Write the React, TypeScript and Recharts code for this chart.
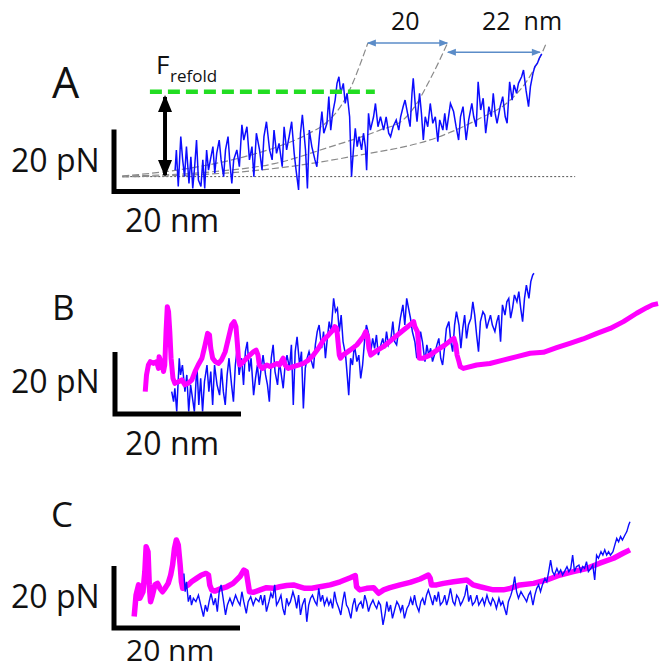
import { ComposedChart, Line, XAxis, YAxis } from 'recharts';

// extension (nm) vs force (pN); 0/0 = corner of each scale bar
const A_TRACE = [
  [9.7, 6.9], [9.9, 13.4], [10.2, 1.6], [10.6, 17.7], [10.9, 10.2], [11.2, 4.8], [11.5, 14.5], [11.9, 2.6],
  [12.2, 11.2], [12.5, 1.0], [12.8, 8.0], [13.1, 16.6], [13.4, 3.7], [13.8, 1.6], [14.1, 10.2], [14.4, 1.0],
  [14.7, 13.4], [15.0, 6.9], [15.3, 10.2], [15.7, 14.5], [16.0, 5.9], [16.3, 12.3], [16.7, 16.6], [17.0, 10.2],
  [17.4, 4.8], [17.7, 13.4], [18.1, 17.7], [18.4, 9.1], [18.7, 2.6], [19.0, 10.2], [19.5, 13.4], [19.9, 8.0],
  [20.3, 21.5], [20.6, 16.6], [21.1, 20.9], [21.5, 10.2], [21.9, 14.5], [22.2, 4.8], [22.6, 18.8], [23.1, 13.4],
  [23.5, 6.9], [23.8, 17.7], [24.2, 22.5], [24.7, 13.4], [25.1, 10.2], [25.4, 19.8], [25.8, 12.3], [26.2, 15.5],
  [26.7, 8.0], [27.0, 20.9], [27.4, 13.4], [27.8, 17.7], [28.2, 22.5], [28.6, 12.3], [28.9, 6.9], [29.3, 0.5],
  [29.6, 18.8], [29.9, 24.7], [30.4, 13.4], [30.7, 1.0], [31.0, 19.8], [31.4, 14.5], [31.9, 10.2], [32.2, 8.0],
  [32.6, 17.7], [33.0, 25.8], [33.3, 18.8], [33.8, 22.0], [34.1, 30.6], [34.4, 19.8], [34.7, 25.2], [35.1, 29.5],
  [35.4, 34.9], [35.7, 37.0], [36.0, 31.7], [36.4, 34.9], [36.7, 28.4], [37.0, 31.7], [37.4, 24.1], [37.7, 4.8],
  [38.0, 13.4], [38.3, 20.4], [38.6, 14.5], [38.9, 17.7], [39.3, 13.4], [39.6, 18.8], [39.9, 14.5], [40.1, 6.9],
  [40.4, 25.2], [40.7, 19.8], [41.2, 24.1], [41.5, 28.4], [41.9, 20.9], [42.3, 24.1], [42.8, 19.8], [43.2, 24.1],
  [43.6, 18.8], [43.9, 17.7], [44.3, 20.9], [44.8, 23.1], [45.2, 19.8], [45.5, 24.1], [45.9, 27.4], [46.2, 29.5],
  [46.7, 24.1], [47.0, 20.9], [47.3, 31.7], [47.5, 36.5], [47.8, 28.4], [48.1, 22.5], [48.5, 31.7], [48.8, 25.2],
  [49.1, 16.6], [49.4, 24.1], [49.8, 20.9], [50.2, 28.4], [50.6, 22.0], [51.0, 24.1], [51.4, 16.1], [51.7, 23.1],
  [52.2, 19.8], [52.5, 25.2], [52.8, 19.8], [53.1, 24.1], [53.4, 28.4], [53.9, 25.8], [54.3, 20.9], [54.7, 16.6],
  [55.0, 24.1], [55.4, 27.4], [55.9, 16.6], [56.3, 23.1], [56.8, 28.4], [57.1, 24.1], [57.5, 20.9], [57.8, 35.4],
  [58.2, 26.3], [58.6, 30.1], [59.0, 18.8], [59.5, 27.4], [59.9, 24.1], [60.2, 31.7], [60.5, 25.2], [60.8, 22.0],
  [61.3, 27.4], [61.7, 30.6], [62.1, 24.1], [62.4, 22.0], [62.8, 35.4], [63.2, 29.5], [63.5, 34.4], [63.9, 31.7],
  [64.2, 34.9], [64.7, 37.0], [65.0, 39.2], [65.4, 32.7], [65.8, 27.4], [66.1, 33.8], [66.5, 38.1], [66.8, 40.3],
  [67.2, 41.3], [67.5, 43.0], [67.9, 44.4],
];

// worm-like-chain guide curves in A
const A_WLC_1 = [[1.3, 5.0], [10.0, 6.9], [20.5, 11.1], [25.9, 14.4], [31.1, 18.9], [33.8, 22.4], [36.3, 28.5], [37.9, 35.0], [39.5, 43.4], [40.3, 47.9]];
const A_WLC_2 = [[1.3, 5.0], [15.2, 6.3], [25.9, 9.2], [34.3, 14.4], [42.2, 19.8], [45.9, 23.1], [48.1, 28.5], [50.0, 35.5], [51.7, 42.4], [53.0, 48.2]];
const A_WLC_3 = [[1.3, 4.7], [20.0, 6.3], [37.5, 11.2], [52.3, 18.2], [57.6, 23.1], [62.9, 29.5], [65.5, 35.5], [67.2, 41.5], [68.7, 48.2]];
const A_BASELINE = [[1.3, 4.8], [73.2, 4.8]];
const A_REFOLD = [[5.7, 32.2], [41.4, 32.2]];
const A_FORCE_ARROW = [[8.1, 30.5], [8.1, 5.3]];
const A_STEP_20 = [[40.3, 47.9], [52.9, 47.9]];
const A_STEP_22 = [[53.0, 44.9], [67.6, 44.9]];

const B_TRACE = [
  [9.0, 7.2], [9.3, 4.0], [9.5, 8.3], [9.8, 0.8], [10.2, 18.0], [10.4, 12.6], [10.7, 15.8], [11.1, 7.2],
  [11.4, 12.6], [11.7, 0.8], [12.0, 9.4], [12.3, 5.1], [12.6, 0.8], [13.0, 15.8], [13.3, 2.9], [13.6, 11.5],
  [13.9, 0.8], [14.2, 10.4], [14.6, 15.8], [14.9, 7.2], [15.2, 13.7], [15.5, 2.9], [15.8, 15.8], [16.2, 9.4],
  [16.6, 6.1], [16.9, 14.7], [17.2, 7.2], [17.5, 2.9], [17.8, 12.6], [18.1, 18.0], [18.5, 9.4], [18.8, 4.0],
  [19.1, 15.8], [19.4, 21.2], [19.7, 12.6], [20.1, 18.0], [20.4, 9.4], [20.7, 20.1], [21.0, 23.3], [21.3, 13.7],
  [21.6, 18.0], [22.0, 6.1], [22.3, 11.5], [22.6, 15.8], [22.9, 9.4], [23.2, 14.7], [23.5, 19.0], [23.9, 12.6],
  [24.2, 9.4], [24.5, 4.0], [24.8, 18.0], [25.1, 22.3], [25.4, 13.7], [25.8, 9.4], [26.1, 16.9], [26.4, 12.6],
  [26.7, 8.3], [27.0, 15.8], [27.3, 19.0], [27.7, 14.7], [28.0, 22.3], [28.3, 2.9], [28.6, 20.1], [28.9, 24.9],
  [29.3, 15.8], [29.6, 20.1], [29.9, 1.8], [30.2, 14.7], [30.5, 18.0], [30.8, 20.1], [31.2, 16.9], [31.5, 14.7],
  [31.8, 22.3], [32.1, 26.6], [32.4, 28.7], [32.8, 21.2], [33.1, 26.6], [33.4, 18.0], [33.7, 24.4], [34.0, 29.8],
  [34.3, 26.6], [34.7, 37.3], [35.0, 33.0], [35.3, 34.1], [35.6, 26.6], [35.9, 31.9], [36.2, 23.3], [36.6, 19.0],
  [36.9, 11.5], [37.1, 6.1], [37.4, 18.0], [37.7, 15.8], [38.0, 22.3], [38.4, 16.9], [38.7, 19.0], [39.0, 11.5],
  [39.3, 15.8], [39.6, 23.3], [39.9, 28.7], [40.3, 25.5], [40.6, 20.1], [40.9, 24.4], [41.2, 21.2], [41.5, 25.5],
  [41.8, 19.0], [42.2, 22.3], [42.5, 24.4], [42.8, 21.2], [43.1, 26.6], [43.4, 22.3], [43.8, 24.4], [44.1, 29.8],
  [44.4, 23.3], [44.7, 22.3], [45.0, 26.6], [45.3, 30.9], [45.7, 35.2], [46.0, 28.7], [46.3, 37.3], [46.6, 34.1],
  [46.9, 30.9], [47.2, 26.6], [47.6, 23.3], [47.9, 18.0], [48.2, 21.2], [48.5, 26.6], [48.8, 23.3], [49.2, 16.9],
  [49.5, 22.3], [49.8, 19.0], [50.1, 21.2], [50.4, 16.9], [50.7, 19.0], [51.1, 22.3], [51.4, 24.4], [51.7, 18.0],
  [52.0, 15.8], [52.3, 21.2], [52.6, 27.6], [53.0, 29.8], [53.3, 23.3], [53.6, 20.1], [53.9, 28.7], [54.2, 33.0],
  [54.6, 28.7], [54.9, 21.2], [55.2, 27.6], [55.5, 31.9], [55.8, 24.4], [56.1, 28.7], [56.5, 30.9], [56.8, 36.2],
  [57.1, 31.9], [57.4, 25.5], [57.7, 20.1], [58.0, 29.8], [58.4, 33.0], [58.7, 31.9], [59.0, 27.6], [59.3, 29.8],
  [59.6, 31.9], [59.9, 28.7], [60.3, 26.6], [60.6, 29.8], [60.9, 31.9], [61.2, 23.3], [61.5, 35.2], [61.9, 31.9],
  [62.2, 36.2], [62.5, 37.3], [62.8, 30.9], [63.1, 34.1], [63.4, 38.4], [63.8, 36.2], [64.1, 39.5], [64.4, 34.1],
  [64.7, 29.8], [65.0, 37.3], [65.3, 41.6], [65.7, 37.3], [66.0, 42.7], [66.3, 44.8], [66.5, 45.4],
];

const B_MODEL = [
  [4.8, 7.2], [5.0, 12.6], [5.3, 15.8], [5.6, 16.9], [6.1, 16.3], [6.6, 16.9], [6.9, 14.7], [7.0, 18.5],
  [7.2, 17.4], [7.5, 15.8], [7.7, 13.7], [7.9, 15.8], [8.1, 26.6], [8.3, 34.6], [8.5, 33.0], [8.7, 26.6],
  [8.9, 18.0], [9.2, 11.5], [9.5, 9.9], [10.1, 10.4], [10.6, 11.0], [11.1, 9.4], [11.6, 9.9], [12.2, 11.0],
  [12.7, 13.7], [13.2, 15.8], [13.8, 18.0], [14.3, 22.3], [14.7, 26.0], [15.0, 25.5], [15.2, 21.2], [15.5, 18.0],
  [15.9, 16.9], [16.4, 16.3], [16.9, 17.4], [17.5, 20.1], [18.0, 24.4], [18.5, 28.7], [18.9, 29.8], [19.2, 28.2],
  [19.4, 23.3], [19.6, 18.0], [19.8, 15.8], [20.4, 16.9], [20.9, 18.0], [21.4, 19.0], [22.0, 20.1], [22.4, 20.6],
  [22.7, 19.0], [22.9, 15.8], [23.4, 14.7], [24.1, 15.8], [24.6, 15.3], [25.2, 15.8], [25.7, 16.3], [26.1, 15.8],
  [26.5, 17.4], [26.7, 18.0], [27.0, 15.8], [27.5, 14.7], [28.3, 15.3], [29.1, 15.8], [29.9, 16.3], [30.7, 17.4],
  [31.5, 19.0], [32.3, 21.2], [33.1, 23.9], [33.9, 25.5], [34.6, 27.1], [34.9, 28.2], [35.2, 27.6], [35.4, 23.3],
  [35.6, 19.0], [35.8, 18.0], [36.2, 19.0], [37.3, 20.6], [38.4, 22.3], [39.4, 24.9], [39.8, 26.6], [40.1, 24.9],
  [40.3, 21.2], [40.6, 19.0], [41.3, 20.1], [42.6, 21.7], [44.2, 24.4], [45.8, 27.1], [47.1, 29.2], [47.4, 29.8],
  [47.6, 28.2], [48.0, 26.6], [48.2, 22.3], [48.3, 18.0], [48.9, 18.0], [50.0, 19.0], [51.1, 20.6], [52.4, 22.3],
  [53.4, 23.9], [53.8, 24.4], [54.1, 22.3], [54.3, 19.0], [54.6, 16.9], [54.8, 15.3], [55.3, 14.7], [57.4, 15.8],
  [59.5, 16.3], [61.6, 17.4], [63.8, 18.5], [65.9, 19.6], [68.0, 19.9], [70.1, 21.4], [72.2, 22.8], [74.3, 24.2],
  [76.5, 26.0], [78.6, 27.6], [80.7, 29.8], [82.8, 32.5], [84.4, 34.3], [85.3, 35.2], [86.2, 35.6],
];

const C_TRACE = [
  [11.1, 17.6], [11.3, 11.7], [11.5, 14.9], [11.8, 8.5], [12.1, 10.6], [12.3, 7.4], [12.6, 9.6], [13.0, 8.5],
  [13.4, 10.6], [13.9, 6.3], [14.2, 3.7], [14.5, 7.4], [14.8, 5.3], [15.1, 8.5], [15.4, 11.2], [15.8, 7.4],
  [16.1, 9.6], [16.4, 5.3], [16.7, 11.7], [17.0, 13.9], [17.4, 8.5], [17.7, 4.2], [18.0, 7.4], [18.4, 9.6],
  [18.8, 7.4], [19.3, 10.6], [19.7, 8.5], [20.0, 7.4], [20.3, 11.7], [20.6, 8.5], [21.0, 4.7], [21.3, 8.5],
  [21.7, 10.1], [22.1, 7.4], [22.5, 9.6], [23.0, 8.5], [23.3, 10.6], [23.6, 7.4], [23.9, 10.6], [24.2, 5.3],
  [24.6, 8.5], [24.9, 11.2], [25.2, 9.6], [25.5, 13.9], [25.8, 7.4], [26.1, 8.5], [26.5, 10.6], [26.8, 6.3],
  [27.1, 4.2], [27.4, 9.6], [27.7, 7.4], [28.0, 8.5], [28.4, 11.7], [28.7, 9.6], [29.0, 6.3], [29.3, 10.6],
  [29.6, 4.2], [29.9, 7.4], [30.3, 9.6], [30.6, 2.0], [30.9, 7.4], [31.2, 9.6], [31.5, 10.6], [31.9, 8.5],
  [32.2, 7.4], [32.5, 12.8], [32.8, 8.5], [33.1, 10.6], [33.4, 7.4], [33.8, 9.6], [34.1, 7.4], [34.4, 9.0],
  [34.7, 6.3], [35.0, 11.7], [35.3, 8.5], [35.7, 6.3], [36.0, 4.2], [36.3, 8.5], [36.6, 11.7], [36.9, 7.4],
  [37.2, 6.3], [37.6, 3.1], [37.9, 7.4], [38.2, 9.6], [38.5, 5.3], [38.8, 7.4], [39.2, 8.5], [39.5, 6.3],
  [39.8, 10.6], [40.1, 8.5], [40.4, 5.3], [40.7, 7.4], [41.1, 9.0], [41.4, 7.4], [41.7, 6.3], [42.0, 8.5],
  [42.3, 7.4], [42.7, 1.0], [43.0, 4.2], [43.3, 8.5], [43.6, 5.3], [43.9, 7.4], [44.2, 3.1], [44.6, 6.3],
  [44.9, 8.5], [45.2, 7.4], [45.5, 5.3], [45.8, 7.4], [46.1, 3.1], [46.5, 6.3], [46.8, 7.4], [47.1, 9.6],
  [47.4, 7.4], [47.7, 10.6], [48.0, 7.4], [48.4, 5.3], [48.7, 8.5], [49.0, 9.6], [49.3, 7.4], [49.6, 10.6],
  [49.9, 12.3], [50.3, 9.6], [50.6, 7.4], [50.9, 10.6], [51.2, 8.5], [51.5, 11.7], [51.8, 7.4], [52.2, 8.5],
  [52.5, 10.6], [52.8, 7.4], [53.1, 9.6], [53.4, 12.8], [53.8, 8.5], [54.1, 7.4], [54.4, 10.6], [54.7, 9.6],
  [55.0, 7.4], [55.3, 8.5], [55.7, 10.6], [56.0, 13.9], [56.3, 8.5], [56.6, 10.6], [56.9, 7.4], [57.3, 8.5],
  [57.6, 10.6], [57.9, 7.4], [58.2, 8.5], [58.5, 9.6], [58.8, 7.4], [59.2, 10.6], [59.5, 8.5], [59.8, 7.4],
  [60.1, 9.6], [60.4, 8.5], [60.7, 6.3], [61.1, 9.6], [61.4, 7.4], [61.7, 8.5], [62.0, 6.3], [62.3, 4.2],
  [62.6, 8.5], [63.0, 10.6], [63.3, 12.8], [63.6, 16.6], [63.9, 11.7], [64.2, 9.6], [64.6, 11.7], [64.9, 10.6],
  [65.2, 9.6], [65.5, 8.5], [65.8, 10.6], [66.1, 11.7], [66.5, 7.4], [66.8, 10.6], [67.1, 12.8], [67.4, 13.9],
  [67.7, 11.7], [68.0, 13.9], [68.4, 16.0], [68.7, 14.9], [69.0, 18.2], [69.3, 21.9], [69.6, 18.2], [69.9, 17.1],
  [70.3, 19.2], [70.6, 17.6], [70.9, 18.7], [71.2, 17.1], [71.5, 18.2], [71.9, 19.8], [72.2, 18.2], [72.5, 19.2],
  [72.8, 23.5], [73.1, 18.2], [73.4, 19.8], [73.8, 20.3], [74.1, 18.2], [74.4, 19.8], [74.7, 19.2], [75.0, 21.4],
  [75.3, 18.2], [75.7, 19.2], [76.0, 20.3], [76.3, 15.5], [76.6, 23.5], [76.9, 22.5], [77.3, 24.6], [77.6, 23.5],
  [77.9, 25.2], [78.2, 23.5], [78.5, 24.6], [78.8, 23.5], [79.2, 24.6], [79.5, 26.8], [79.8, 28.9], [80.1, 27.8],
  [80.4, 29.5], [80.7, 28.4], [81.1, 30.0], [81.4, 31.1], [81.7, 33.2], [81.9, 34.3],
];

const C_MODEL = [
  [3.2, 3.7], [3.5, 10.6], [3.9, 13.9], [4.1, 9.6], [4.6, 11.7], [4.9, 18.2], [5.1, 26.2], [5.4, 24.6],
  [5.6, 13.9], [5.8, 8.5], [6.1, 10.6], [6.5, 13.9], [6.9, 14.4], [7.3, 12.8], [7.7, 11.7], [8.1, 12.8],
  [8.6, 14.4], [9.0, 17.1], [9.3, 20.3], [9.6, 25.7], [9.9, 28.4], [10.2, 26.8], [10.5, 20.3], [10.7, 14.9],
  [10.9, 12.8], [11.3, 13.3], [11.8, 13.9], [12.3, 14.9], [13.1, 16.0], [13.9, 17.1], [14.6, 17.6], [15.0, 17.1],
  [15.2, 13.9], [15.5, 12.3], [16.0, 11.9], [16.8, 12.6], [17.9, 13.3], [18.9, 14.4], [20.0, 16.6], [20.6, 18.7],
  [21.0, 18.2], [21.2, 15.5], [21.5, 11.7], [22.1, 11.5], [23.2, 12.3], [24.2, 13.0], [25.3, 12.8], [26.3, 13.3],
  [27.4, 13.7], [28.5, 13.9], [29.5, 13.3], [30.3, 12.8], [31.4, 12.8], [32.7, 13.3], [34.3, 13.9], [35.9, 14.9],
  [37.5, 16.2], [38.3, 16.9], [38.5, 13.3], [39.0, 12.3], [40.1, 12.8], [41.2, 13.0], [42.0, 11.2], [42.8, 12.3],
  [43.8, 13.0], [45.4, 13.9], [47.0, 14.7], [48.6, 15.8], [49.9, 17.1], [50.2, 16.0], [50.4, 13.9], [51.2, 13.9],
  [52.3, 14.4], [53.9, 14.9], [56.0, 15.5], [57.0, 13.9], [58.1, 13.3], [59.2, 12.8], [60.2, 12.3], [61.8, 12.3],
  [62.9, 12.8], [64.4, 13.9], [66.6, 14.4], [68.7, 15.5], [70.8, 17.1], [72.9, 18.2], [75.0, 19.2], [77.1, 20.9],
  [79.3, 22.5], [80.8, 24.1], [81.9, 25.2],
];

// 20 pN / 20 nm scale bar
const SCALE_BAR = [[0, 20], [0, 0], [20, 0]];

const PANEL_LETTERS = ['A', 'B', 'C'];
const FORCE_LABEL = '20 pN';
const EXT_LABEL = '20 nm';
const STEP_LABELS = ['20', '22  nm'];

const W = 659;
const H = 671;
const PX_PER_NM = 6.3;
const PX_PER_PN = 3.1;
const FONT = '"Open Sans", "Liberation Sans", sans-serif';
const BLUE = '#0c0cff';
const MAGENTA = '#ff00ff';

const toPts = (arr: number[][]) => arr.map(([x, y]) => ({ x, y }));

function Head(props: any, horizontal: boolean, len: number, half: number, color: string) {
  const { cx, cy, index } = props;
  if (cx == null || cy == null) return <g key={index} />;
  const s = index === 0 ? 1 : -1;
  const pts = horizontal
    ? `${cx - s},${cy} ${cx + s * len},${cy - half} ${cx + s * len},${cy + half}`
    : `${cx},${cy - 2 * s} ${cx - half},${cy + s * len} ${cx + half},${cy + s * len}`;
  return <polygon key={index} points={pts} fill={color} />;
}

function Panel({ top, height, x0, y0, children }: any) {
  const xDomain = [-x0 / PX_PER_NM, (W - x0) / PX_PER_NM];
  const yDomain = [(y0 - (top + height)) / PX_PER_PN, (y0 - top) / PX_PER_PN];
  return (
    <div style={{ position: 'absolute', left: 0, top }}>
      <ComposedChart width={W} height={height} margin={{ top: 0, right: 0, bottom: 0, left: 0 }}>
        <XAxis type="number" dataKey="x" domain={xDomain} hide allowDataOverflow />
        <YAxis type="number" dataKey="y" domain={yDomain} hide allowDataOverflow />
        {children}
      </ComposedChart>
    </div>
  );
}

const common = { dataKey: 'y', dot: false, activeDot: false, isAnimationActive: false, type: 'linear' as const };

function ScaleBar() {
  return (
    <Line {...common} data={toPts(SCALE_BAR)} stroke="#000" strokeWidth={5} strokeLinejoin="miter" strokeLinecap="butt" />
  );
}

function Label({ x, y, size, children }: any) {
  return (
    <text x={x} y={y} fontSize={size} fontFamily={FONT} fill="#111" xmlSpace="preserve">
      {children}
    </text>
  );
}

export default function App() {
  return (
    <div style={{ position: 'absolute', left: 0, top: 0, width: W, height: H, background: '#fff', overflow: 'hidden' }}>
      <Panel top={0} height={240} x0={114} y0={191.5}>
        <Line {...common} data={toPts(A_BASELINE)} stroke="#555" strokeWidth={1} strokeDasharray="2 2" />
        <Line {...common} data={toPts(A_WLC_1)} type="monotone" stroke="#8a8a8a" strokeWidth={1.2} strokeDasharray="7 3" />
        <Line {...common} data={toPts(A_WLC_2)} type="monotone" stroke="#8a8a8a" strokeWidth={1.2} strokeDasharray="7 3" />
        <Line {...common} data={toPts(A_WLC_3)} type="monotone" stroke="#8a8a8a" strokeWidth={1.2} strokeDasharray="7 3" />
        <Line {...common} data={toPts(A_TRACE)} stroke={BLUE} strokeWidth={1.5} />
        <Line {...common} data={toPts(A_REFOLD)} stroke="#22dd22" strokeWidth={4.5} strokeDasharray="12 6" />
        <Line
          {...common}
          data={toPts(A_FORCE_ARROW)}
          stroke="#000"
          strokeWidth={4}
          dot={(p: any) => Head(p, false, 15, 7, '#000')}
        />
        <Line
          {...common}
          data={toPts(A_STEP_20)}
          stroke="#5b8cc8"
          strokeWidth={1.6}
          dot={(p: any) => Head(p, true, 8, 3.5, '#5b8cc8')}
        />
        <Line
          {...common}
          data={toPts(A_STEP_22)}
          stroke="#5b8cc8"
          strokeWidth={1.6}
          dot={(p: any) => Head(p, true, 8, 3.5, '#5b8cc8')}
        />
        {ScaleBar()}
      </Panel>

      <Panel top={240} height={220} x0={115} y0={414}>
        <Line {...common} data={toPts(B_TRACE)} stroke={BLUE} strokeWidth={1.5} />
        <Line {...common} data={toPts(B_MODEL)} stroke={MAGENTA} strokeWidth={5} strokeLinejoin="round" />
        {ScaleBar()}
      </Panel>

      <Panel top={460} height={211} x0={114} y0={628}>
        <Line {...common} data={toPts(C_MODEL)} stroke={MAGENTA} strokeWidth={5.5} strokeLinejoin="round" />
        <Line {...common} data={toPts(C_TRACE)} stroke={BLUE} strokeWidth={1.4} />
        {ScaleBar()}
      </Panel>

      <svg width={W} height={H} style={{ position: 'absolute', left: 0, top: 0, pointerEvents: 'none' }}>
        <Label x={52} y={98} size={43}>{PANEL_LETTERS[0]}</Label>
        <Label x={52} y={320} size={35}>{PANEL_LETTERS[1]}</Label>
        <Label x={51} y={527} size={35}>{PANEL_LETTERS[2]}</Label>

        <Label x={11} y={172} size={32}>{FORCE_LABEL}</Label>
        <Label x={11} y={393} size={32}>{FORCE_LABEL}</Label>
        <Label x={11} y={608} size={32}>{FORCE_LABEL}</Label>

        <Label x={125} y={232} size={32}>{EXT_LABEL}</Label>
        <Label x={125} y={455} size={32}>{EXT_LABEL}</Label>
        <Label x={126} y={661} size={30}>{EXT_LABEL}</Label>

        <Label x={156} y={74} size={26}>F</Label>
        <Label x={170} y={82} size={17}>refold</Label>

        <Label x={391} y={30} size={25}>{STEP_LABELS[0]}</Label>
        <Label x={482} y={30} size={25}>{STEP_LABELS[1]}</Label>
      </svg>
    </div>
  );
}
